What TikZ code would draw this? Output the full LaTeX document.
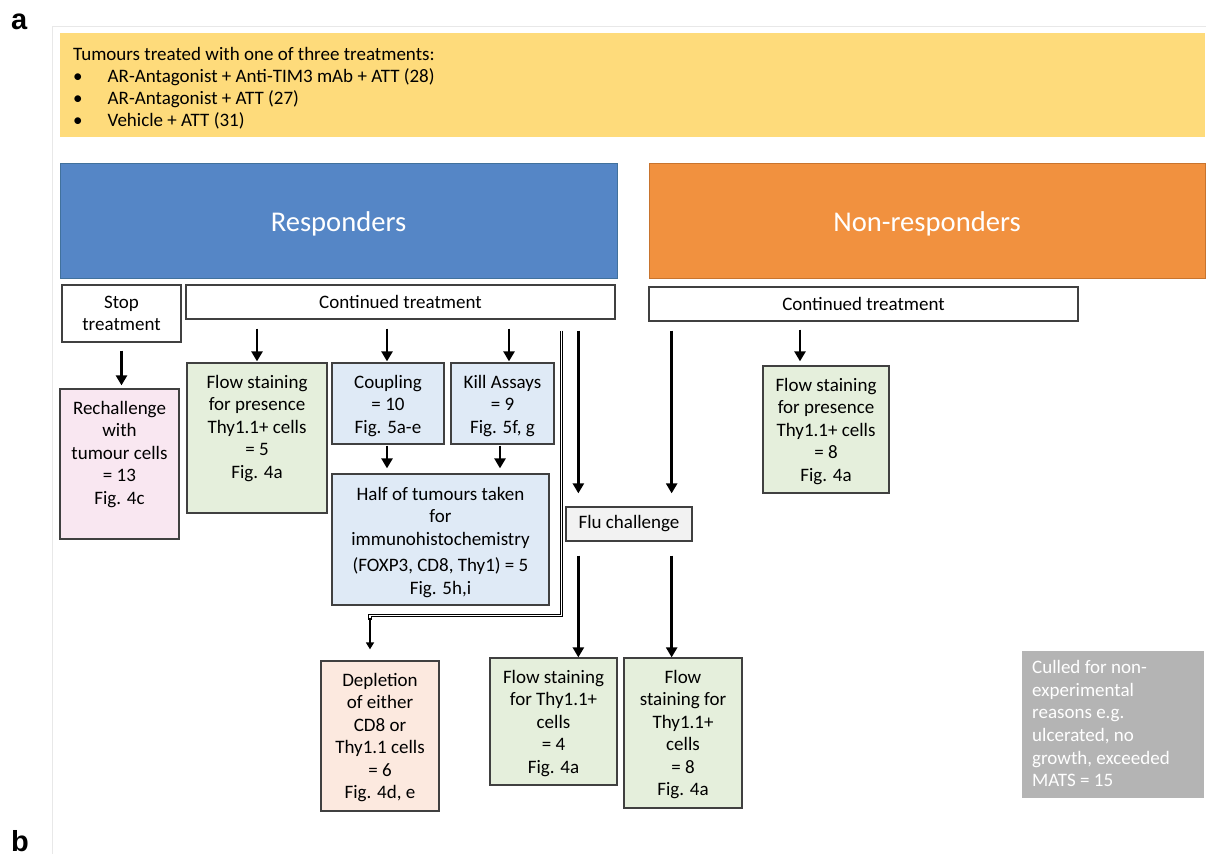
\documentclass[tikz,border=0pt]{standalone}
\usepackage{fontspec}
\setmainfont{Carlito}
\newfontfamily\labelfont{Liberation Sans}
\usetikzlibrary{arrows.meta,calc}
\definecolor{yel}{HTML}{FEDB7B}
\definecolor{blu}{HTML}{5586C6}
\definecolor{bluedge}{HTML}{41719C}
\definecolor{org}{HTML}{F1913F}
\definecolor{orgedge}{HTML}{C8742E}
\definecolor{pinkf}{HTML}{F9E7F1}
\definecolor{greenf}{HTML}{E5EFDC}
\definecolor{bluef}{HTML}{DFEAF6}
\definecolor{peachf}{HTML}{FCE9DF}
\definecolor{fluf}{HTML}{F2F2F2}
\definecolor{cullf}{HTML}{B4B4B4}
\definecolor{edge}{HTML}{404040}
\definecolor{framec}{HTML}{E8E8E8}
\begin{document}
\begin{tikzpicture}[x=1pt,y=-1pt,
  box/.style={draw=edge, line width=1.3pt, inner sep=0pt, align=center, font=\fontsize{19}{22.5}\selectfont},
  txt/.style={inner sep=0pt, align=center, font=\fontsize{19}{22.5}\selectfont, anchor=north},
  big/.style={inner sep=0pt, text=white, font=\fontsize{28.6}{34}\selectfont},
  arr/.style={line width=2.8pt, -{Triangle[length=10pt,width=11pt]}},
  lbl/.style={inner sep=0pt, anchor=base west, font=\labelfont\bfseries\fontsize{29}{34}\selectfont}
]
\useasboundingbox (0,0) rectangle (1206,854);
\clip (0,0) rectangle (1206,854);
\fill[white] (0,0) rectangle (1206,854);

% frame lines
\draw[framec, line width=1pt] (52,854) -- (52,26) -- (1206,26);

% panel labels
\node[lbl] (la) at (11,29) {a};
\node[lbl] (lb) at (11,851) {b};

% intro banner
\node[fill=yel, minimum width=1145pt, minimum height=104pt, inner sep=0pt] (intro) at (632.5,85) {};
\node[inner sep=0pt, anchor=north west, align=left, font=\fontsize{19}{22.2}\selectfont] (intro-t) at (73,47)
 {Tumours treated with one of three treatments:\\
  \makebox[34.5pt][l]{•}AR-Antagonist + Anti-TIM3 mAb + ATT (28)\\
  \makebox[34.5pt][l]{•}AR-Antagonist + ATT (27)\\
  \makebox[34.5pt][l]{•}Vehicle + ATT (31)};

% headers
\node[draw=bluedge, line width=1pt, fill=blu, minimum width=557pt, minimum height=115pt] (resp) at (338.5,220.5) {};
\node[big] (resp-t) at (338.5,224) {Responders};
\node[draw=orgedge, line width=1pt, fill=org, minimum width=556pt, minimum height=115pt] (nonr) at (927,220.5) {};
\node[big] (nonr-t) at (927,224) {Non-responders};

% treatment boxes
\node[box, fill=white, minimum width=119pt, minimum height=57pt] (stop) at (121.5,313.5) {Stop\\treatment};
\node[box, fill=white, minimum width=429pt, minimum height=34pt] (contR) at (400.5,302) {Continued treatment};
\node[box, fill=white, minimum width=429pt, minimum height=34pt] (contN) at (863.5,304) {Continued treatment};

% result boxes
\node[box, fill=pinkf, minimum width=119pt, minimum height=150pt] (rech) at (119.5,464) {};
\node[txt] (rech-t) at (119.5,401) {Rechallenge\\with\\tumour cells\\= 13\\Fig. 4c};

\node[box, fill=greenf, minimum width=140pt, minimum height=150pt] (flowL) at (257,438) {};
\node[txt] (flowL-t) at (257,375) {Flow staining\\for presence\\Thy1.1+ cells\\= 5\\Fig. 4a};

\node[box, fill=bluef, minimum width=112pt, minimum height=81pt] (coup) at (388,403.5) {};
\node[txt] (coup-t) at (388,375) {Coupling\\= 10\\Fig. 5a-e};

\node[box, fill=bluef, minimum width=103pt, minimum height=81pt] (kill) at (502.5,403.5) {};
\node[txt] (kill-t) at (502.5,375) {Kill Assays\\= 9\\Fig. 5f, g};

\node[box, fill=bluef, minimum width=217pt, minimum height=131pt] (half) at (440.5,539.5) {};
\node[txt] (half-t) at (440.5,487) {Half of tumours taken\\for\\immunohistochemistry\\[4pt](FOXP3, CD8, Thy1) = 5\\Fig. 5h,i};

\node[box, fill=fluf, minimum width=126pt, minimum height=34pt] (flu) at (629,524) {Flu challenge};

\node[box, fill=greenf, minimum width=126pt, minimum height=127pt] (flowN) at (826,429.5) {};
\node[txt] (flowN-t) at (826,378) {Flow staining\\for presence\\Thy1.1+ cells\\= 8\\Fig. 4a};

\node[box, fill=greenf, minimum width=127pt, minimum height=127pt] (flow4) at (553.5,721.5) {};
\node[txt] (flow4-t) at (553.5,670) {Flow staining\\for Thy1.1+\\cells\\= 4\\Fig. 4a};

\node[box, fill=greenf, minimum width=118pt, minimum height=150pt] (flow8) at (683,733) {};
\node[txt] (flow8-t) at (683,670) {Flow\\staining for\\Thy1.1+\\cells\\= 8\\Fig. 4a};

\node[box, fill=peachf, minimum width=118pt, minimum height=150pt] (dep) at (380,736) {};
\node[txt] (dep-t) at (380,673) {Depletion\\of either\\CD8 or\\Thy1.1 cells\\= 6\\Fig. 4d, e};

\node[fill=cullf, minimum width=182pt, minimum height=147pt, inner sep=0pt] (cull) at (1113,724.5) {};
\node[inner sep=0pt, anchor=north west, align=left, text=white, font=\fontsize{19}{22.7}\selectfont] (cull-t) at (1032,660)
 {Culled for non-\\experimental\\reasons e.g.\\ulcerated, no\\growth, exceeded\\MATS = 15};

% arrows
\draw[arr] ($(stop.south)+(0,8)$) -- ($(stop.south |- rech.north)+(0,-3)$);
\draw[arr] ($(flowL.north |- contR.south)+(0,9)$) -- ($(flowL.north)+(0,-1)$);
\draw[arr] ($(coup.north |- contR.south)+(-1,9)$) -- ($(coup.north)+(-1,-1)$);
\draw[arr] ($(kill.north |- contR.south)+(6.5,9)$) -- ($(kill.north)+(6.5,-1)$);
\draw[arr] ($(coup.south)+(-1,1)$) -- ($(coup.south |- half.north)+(-1,-5)$);
\draw[arr] ($(kill.south)+(-2.5,1)$) -- ($(kill.south |- half.north)+(-2.5,-5)$);
\draw[arr] ($(flu.north west |- contR.south)+(13,11)$) -- ($(flu.north west)+(13,-13)$);
\draw[arr] ($(flu.north east |- contN.south)+(-21,9)$) -- ($(flu.north east)+(-21,-13)$);
\draw[arr] ($(flu.south west)+(13,14)$) -- ($(flu.south west |- flow4.north)+(13,0)$);
\draw[arr] ($(flu.south east)+(-21,14)$) -- ($(flu.south east |- flow8.north)+(-21,0)$);
\draw[arr] ($(flowN.north |- contN.south)+(-26,8)$) -- ($(flowN.north)+(-26,-4)$);

% hollow elbow connector to depletion
\draw[double=white, double distance=1.6pt, line width=0.9pt] ($(contR.south east)+(-54,11)$) |- ($(dep.north)+(-10,-45)$) -- ($(dep.north)+(-10,-40)$);
\draw[line width=1.6pt, -{Triangle[length=7pt,width=8pt]}] ($(dep.north)+(-10,-42)$) -- ($(dep.north)+(-10,-11)$);
\end{tikzpicture}
\end{document}
